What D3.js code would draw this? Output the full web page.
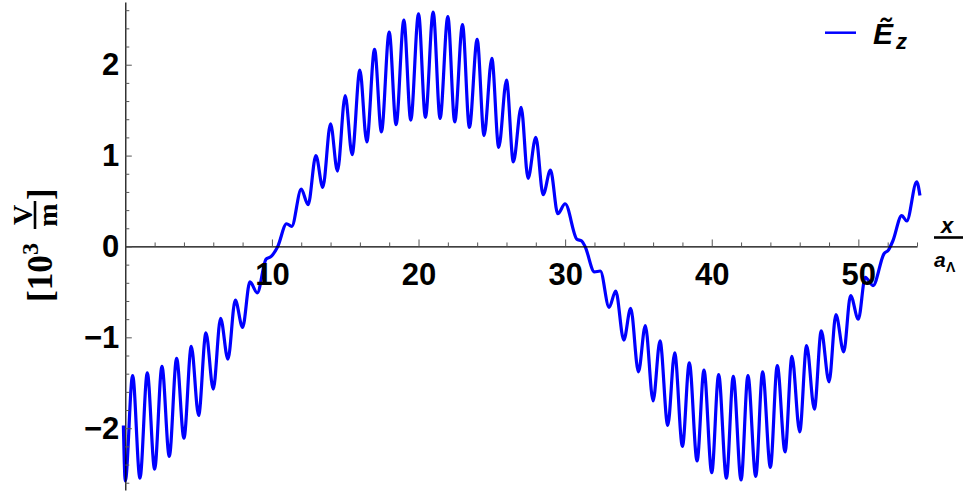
<!DOCTYPE html>
<html>
<head>
<meta charset="utf-8">
<script src="https://cdn.jsdelivr.net/npm/d3@7/dist/d3.min.js"></script>
<style>
  body { margin: 0; background: #fff; }
  text { font-family: "Liberation Sans", Arial, sans-serif; font-weight: bold; }
</style>
</head>
<body>
<script>
// field samples: x / a_Λ and Ẽz in 10^3 V/m, mostly at the ripple extrema
var xPos = [
  -0.13, 0, 0.5, 1, 1.5, 2, 2.5, 3, 3.5, 4, 4.5, 5, 5.5, 6, 6.5, 7, 7.5, 8, 8.5, 9,
  9.6, 9.95, 10.4, 11.0, 11.35, 12,
  12.47, 13, 13.47, 14, 14.47, 15, 15.47, 16, 16.47, 17, 17.47, 18, 18.47, 19, 19.47, 20,
  20.47, 21, 21.47, 22, 22.47, 23, 23.47, 24, 24.47, 25, 25.47, 26, 26.47, 27, 27.47, 28,
  28.5, 29, 29.5, 30,
  30.8, 31.13, 31.36, 32, 32.4,
  33, 33.45, 34, 34.47, 35, 35.47, 36, 36.47, 37, 37.47, 38, 38.47, 39, 39.47, 40, 40.47,
  41, 41.47, 42, 42.47, 43, 43.47, 44, 44.47, 45, 45.47, 46, 46.47, 47, 47.47, 48, 48.47,
  49, 49.47, 50, 50.47, 51,
  51.75, 52.05, 52.35, 52.96, 53.3, 53.98, 54.2
];
var ezVal = [
  -1.97, -2.58, -1.42, -2.55, -1.39, -2.45, -1.32, -2.31, -1.23, -2.11, -1.10, -1.86, -0.95, -1.57, -0.79, -1.24, -0.59, -0.89, -0.39, -0.51,
  -0.14, -0.11, 0.0, 0.25, 0.22, 0.63,
  0.46, 1.00, 0.65, 1.35, 0.83, 1.66, 1.01, 1.94, 1.15, 2.17, 1.26, 2.36, 1.34, 2.49, 1.39, 2.56,
  1.42, 2.58, 1.41, 2.53, 1.37, 2.44, 1.31, 2.28, 1.22, 2.07, 1.09, 1.83, 0.93, 1.53, 0.75, 1.20,
  0.57, 0.84, 0.36, 0.47,
  0.08, 0.06, 0.0, -0.28, -0.27,
  -0.67, -0.49, -1.03, -0.68, -1.38, -0.87, -1.70, -1.04, -1.97, -1.17, -2.20, -1.28, -2.36, -1.36, -2.49, -1.41,
  -2.55, -1.43, -2.57, -1.42, -2.53, -1.38, -2.43, -1.31, -2.26, -1.21, -2.04, -1.09, -1.79, -0.93, -1.49, -0.75,
  -1.16, -0.54, -0.80, -0.34, -0.43,
  -0.08, -0.04, 0.06, 0.34, 0.28, 0.71, 0.56
];

var xMajor = [10, 20, 30, 40, 50];
var yMajor = [-2, -1, 0, 1, 2];

var width = 966;
var height = 496;
var serif = "'Liberation Serif', 'Times New Roman', serif";

var svg = d3.select("body").append("svg")
    .attr("width", width)
    .attr("height", height);

var x = d3.scaleLinear().domain([0, 54]).range([125.3, 917]);
var y = d3.scaleLinear().domain([-2.68, 2.69]).range([490, 2]);

// minor tick positions
var xMinor = d3.range(1, 28).map(function (k) { return k * 2; })
    .filter(function (v) { return v % 10 !== 0; });
var yMinor = d3.range(-13, 14).map(function (k) { return k / 5; })
    .filter(function (v) { return !Number.isInteger(v); });

// curve
var line = d3.line()
    .x(function (d, i) { return x(xPos[i]); })
    .y(function (d) { return y(d); })
    .curve(d3.curveMonotoneX);

svg.append("path")
    .datum(ezVal)
    .attr("d", line)
    .attr("fill", "none")
    .attr("stroke", "#0000ff")
    .attr("stroke-width", 3.2)
    .attr("stroke-linejoin", "round");

// x axis (ticks pointing up, labels below)
var gx = svg.append("g").attr("transform", "translate(0," + y(0) + ")");
gx.append("g")
    .call(d3.axisTop(x).tickValues(xMinor).tickSize(4).tickSizeOuter(0).tickFormat(""));
gx.append("g")
    .call(d3.axisTop(x).tickValues(xMajor).tickSize(7).tickFormat(""))
    .select(".domain").remove();
var gxl = gx.append("g")
    .call(d3.axisBottom(x).tickValues(xMajor).tickSize(0).tickPadding(17));
gxl.select(".domain").remove();
gxl.selectAll("text")
    .attr("fill", "#000")
    .style("font-size", "31px");

// y axis (ticks pointing right, labels left)
var gy = svg.append("g").attr("transform", "translate(" + x(0) + ",0)");
gy.append("g")
    .call(d3.axisRight(y).tickValues(yMinor).tickSize(4).tickSizeOuter(0).tickFormat(""));
gy.append("g")
    .call(d3.axisRight(y).tickValues(yMajor).tickSize(6.5).tickFormat(""))
    .select(".domain").remove();
var gyl = gy.append("g")
    .call(d3.axisLeft(y).tickValues(yMajor).tickSize(0).tickPadding(6)
        .tickFormat(function (d) { return d < 0 ? "\u2212" + Math.abs(d) : d; }));
gyl.select(".domain").remove();
gyl.selectAll("text")
    .attr("fill", "#000")
    .style("font-size", "31px");

svg.selectAll(".domain").attr("stroke", "#000").attr("stroke-width", 1.2);
svg.selectAll(".tick line").attr("stroke", "#555").attr("stroke-width", 1);

// x axis label:  x / a_Λ
var xl = svg.append("g");
xl.append("text").attr("x", 947).attr("y", 232.5)
    .attr("text-anchor", "middle").style("font-style", "italic").style("font-size", "22px")
    .text("x");
xl.append("line").attr("x1", 934).attr("x2", 963).attr("y1", 237.5).attr("y2", 237.5)
    .attr("stroke", "#000").attr("stroke-width", 2.6);
xl.append("text").attr("x", 934).attr("y", 267)
    .style("font-style", "italic").style("font-size", "21px")
    .text("a");
xl.append("text").attr("x", 946).attr("y", 272)
    .style("font-size", "14px")
    .text("\u039B");

// y axis label: [10^3 V/m], rotated
var yl = svg.append("g").attr("transform", "rotate(-90)");
yl.append("text").attr("x", -302).attr("y", 52)
    .style("font-family", serif).style("font-size", "35px").text("[10");
yl.append("text").attr("x", -255).attr("y", 38)
    .style("font-family", serif).style("font-size", "24px").text("3");
yl.append("text").attr("x", -215).attr("y", 32).attr("text-anchor", "middle")
    .style("font-family", serif).style("font-size", "28px").text("V");
yl.append("line").attr("x1", -229).attr("x2", -201).attr("y1", 35).attr("y2", 35)
    .attr("stroke", "#000").attr("stroke-width", 2.6);
yl.append("text").attr("x", -215).attr("y", 57).attr("text-anchor", "middle")
    .style("font-family", serif).style("font-size", "28px").text("m");
yl.append("text").attr("x", -200).attr("y", 52)
    .style("font-family", serif).style("font-size", "35px").text("]");

// legend
var lg = svg.append("g");
lg.append("line").attr("x1", 825).attr("x2", 856).attr("y1", 32.7).attr("y2", 32.7)
    .attr("stroke", "#0000ff").attr("stroke-width", 2.5);
lg.append("text").attr("x", 873).attr("y", 43.5)
    .style("font-style", "italic").style("font-size", "30px")
    .text("\u1EBC");
lg.append("text").attr("x", 896).attr("y", 48.5)
    .style("font-style", "italic").style("font-size", "22px")
    .text("z");
</script>
</body>
</html>
